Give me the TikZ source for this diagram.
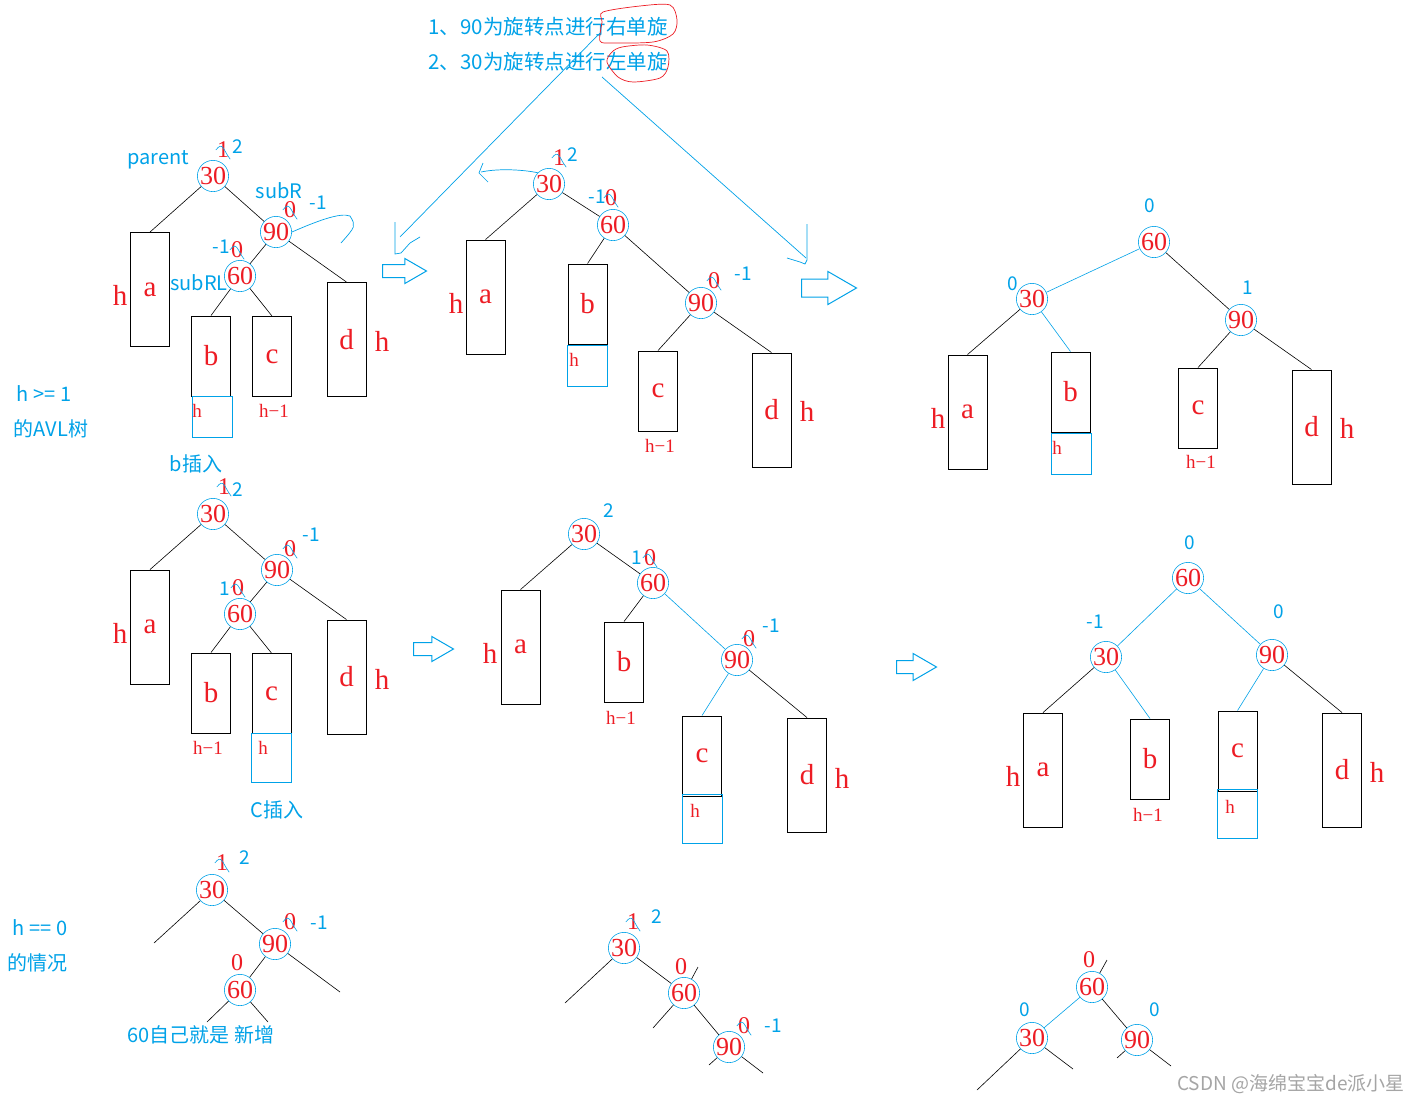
\documentclass[tikz,border=0pt]{standalone}
\usepackage{fontspec}
\setmainfont{Liberation Serif}
\newfontfamily\cjk{Noto Sans CJK SC}
\usetikzlibrary{shapes.arrows}
\definecolor{sky}{RGB}{0,162,232}
\definecolor{redpen}{RGB}{237,28,36}
\definecolor{wmgray}{RGB}{165,165,165}

\begin{document}
\begin{tikzpicture}
    [x=1pt,y=-1pt,
     key/.style={circle,draw=sky,line width=0.6pt,inner sep=0pt,minimum size=29pt,text=redpen,font=\fontsize{26}{26}\selectfont},
     sub/.style={draw,line width=0.9pt,inner sep=0pt,minimum width=39pt,text=redpen,font=\fontsize{29}{29}\selectfont},
     tall/.style={sub,minimum height=114pt},
     short/.style={sub,minimum height=80pt},
     addbox/.style={draw=sky,line width=0.9pt,inner sep=0pt,minimum width=40pt,minimum height=41pt},
     addboxl/.style={addbox,minimum height=49pt},
     hbig/.style={text=redpen,inner sep=0pt,font=\fontsize{29}{29}\selectfont},
     hsmall/.style={text=redpen,inner sep=0pt,font=\fontsize{19}{19}\selectfont},
     old/.style={text=redpen,inner sep=1pt,font=\fontsize{24}{24}\selectfont},
     new/.style={text=sky,inner sep=1pt,font=\cjk\fontsize{19}{19}\selectfont},
     note/.style={text=sky,inner sep=0pt,font=\cjk\fontsize{20}{20}\selectfont},
     link/.style={line width=0.6pt},
     blink/.style={link,sky},
     strk/.style={sky,line width=0.6pt},
     pen/.style={sky,line width=0.7pt},
     loopline/.style={redpen,line width=0.7pt},
     hollow/.style={single arrow,draw=sky,line width=1pt,anchor=tail,inner xsep=0pt,inner ysep=6pt,single arrow tip angle=60,single arrow head extend=6pt,minimum width=0pt,minimum height=44pt}]
  \useasboundingbox (0,0) rectangle (1424,1103);
  \fill[white] (0,0) rectangle (1424,1103);

  \node (step1) at (548,27) [note,font=\cjk\fontsize{20.5}{20.5}\selectfont] {1、90为旋转点进行右单旋};
  \node (step2) at (548,62) [note,font=\cjk\fontsize{20.5}{20.5}\selectfont] {2、30为旋转点进行左单旋};
  \draw[loopline] plot[smooth cycle] coordinates {(603,12) (640,6) (670,5) (677,20) (673,34) (653,42) (613,43) (600,41) (602,22)};
  \draw[loopline] plot[smooth cycle] coordinates {(607,62) (612,52) (622,47) (647,45) (667,51) (668,67) (660,78) (633,82) (618,77)};

  \coordinate (s1a) at (600,33);
  \coordinate (s1b) at (400,237);
  \coordinate (s2a) at (602,77);
  \coordinate (s2b) at (806,258);
  \draw[pen] (s1a) -- (s1b);
  \draw[pen] (395,222) -- (395,254) -- (401,253) -- (410,243) -- (420,237);
  \draw[pen] (s2a) -- (s2b);
  \draw[pen] (807,224) -- (807,260) -- (805,264) -- (800,262) -- (787,258);

  \node (hgt1) at (44,394) [note] {h >= 1};
  \node (hgt2) at (51,429) [note] {的AVL树};
  \node (hzero1) at (40,928) [note] {h == 0};
  \node (hzero2) at (37,963) [note] {的情况};

  % h >= 1, insert into b
  \node (t1) at (158,160) [note] {parent};
  \node (t2) at (279,191) [note] {subR};
  \node (t3) at (199,283) [note] {subRL};
  \node (t4) at (196,464) [note] {b插入};
  \node (p1k30) at (213,176) [key] {30};
  \node (p1k90) at (276,232) [key] {90};
  \node (p1k60) at (240,276) [key] {60};
  \node (p1a) at (150,289.5) [tall] {a};
  \node (p1b) at (211,356) [short] {b};
  \node (p1c) at (272,356.5) [short] {c};
  \node (p1d) at (346.5,339.5) [tall] {d};
  \node (p1g) at (212,416.5) [addbox] {};
  \node (p1h1) at (120,295) [hbig] {h};
  \node (p1h2) at (382,341) [hbig] {h};
  \node (p1h3) at (197,411) [hsmall] {h};
  \node (p1h4) at (274,411) [hsmall] {h−1};
  \node (p1o1) at (223,150) [old] {1};
  \node (p1n1) at (238,147) [new] {2};
  \node (p1o2) at (290,210) [old] {0};
  \node (p1n2) at (318,203) [new] {-1};
  \node (p1n3) at (221,247) [new] {-1};
  \node (p1o3) at (237,250) [old] {0};
  \draw[pen] (p1k90.east) .. controls (315,222) and (340,212) .. (350,216) .. controls (356,226) .. (341,243);

  \node (p2k30) at (549,184) [key] {30};
  \node (p2k60) at (613,225) [key] {60};
  \node (p2k90) at (701,303) [key] {90};
  \node (p2a) at (485.5,297) [tall] {a};
  \node (p2b) at (587.5,304) [short] {b};
  \node (p2c) at (658,391) [short] {c};
  \node (p2d) at (771.5,410) [tall] {d};
  \node (p2g) at (587.5,365.5) [addbox] {};
  \node (p2h1) at (456,303) [hbig] {h};
  \node (p2h2) at (807,411) [hbig] {h};
  \node (p2h3) at (574,360) [hsmall] {h};
  \node (p2h4) at (660,446) [hsmall] {h−1};
  \node (p2o1) at (559,158) [old] {1};
  \node (p2n1) at (573,155) [new] {2};
  \node (p2n2) at (597,197) [new] {-1};
  \node (p2o2) at (611,198) [old] {0};
  \node (p2o3) at (714,281) [old] {0};
  \node (p2n3) at (743,274) [new] {-1};
  \draw[pen] (p2k30.north west) .. controls (525,170) and (500,168) .. (481,172);
  \draw[pen] (483,163) -- (479,173) -- (488,182);

  \node (p3k60) at (1154,242) [key] {60};
  \node (p3k30) at (1032,299) [key] {30};
  \node (p3k90) at (1241,320) [key] {90};
  \node (p3a) at (967.5,412) [tall] {a};
  \node (p3b) at (1070.5,392) [short] {b};
  \node (p3c) at (1198,408) [short] {c};
  \node (p3d) at (1311.5,427) [tall] {d};
  \node (p3g) at (1071,453.5) [addbox] {};
  \node (p3h1) at (938,418) [hbig] {h};
  \node (p3h2) at (1347,428) [hbig] {h};
  \node (p3h3) at (1057,448) [hsmall] {h};
  \node (p3h4) at (1201,462) [hsmall] {h−1};
  \node (p3n1) at (1150,206) [new] {0};
  \node (p3n2) at (1013,284) [new] {0};
  \node (p3n3) at (1248,288) [new] {1};

  % h >= 1, insert into c
  \node (t5) at (277,810) [note] {C插入};
  \node (p4k30) at (213,514) [key] {30};
  \node (p4k90) at (277,570) [key] {90};
  \node (p4k60) at (240,614) [key] {60};
  \node (p4a) at (150,627) [tall] {a};
  \node (p4b) at (211,693) [short] {b};
  \node (p4c) at (271.5,693.5) [short] {c};
  \node (p4d) at (346.5,677) [tall] {d};
  \node (p4g) at (271.5,757.5) [addboxl] {};
  \node (p4h1) at (120,633) [hbig] {h};
  \node (p4h2) at (382,679) [hbig] {h};
  \node (p4h3) at (263,748) [hsmall] {h};
  \node (p4h4) at (208,748) [hsmall] {h−1};
  \node (p4o1) at (224,487) [old] {1};
  \node (p4n1) at (238,490) [new] {2};
  \node (p4o2) at (290,549) [old] {0};
  \node (p4n2) at (311,535) [new] {-1};
  \node (p4n3) at (225,589) [new] {1};
  \node (p4o3) at (238,588) [old] {0};

  \node (p5k30) at (584,534) [key] {30};
  \node (p5k60) at (653,583) [key] {60};
  \node (p5k90) at (737,660) [key] {90};
  \node (p5a) at (520.5,647) [tall] {a};
  \node (p5b) at (624,662) [short] {b};
  \node (p5c) at (702,756) [short] {c};
  \node (p5d) at (807,775) [tall] {d};
  \node (p5g) at (702,819) [addboxl] {};
  \node (p5h1) at (490,653) [hbig] {h};
  \node (p5h2) at (842,778) [hbig] {h};
  \node (p5h3) at (695,811) [hsmall] {h};
  \node (p5h4) at (621,718) [hsmall] {h−1};
  \node (p5n1) at (609,511) [new] {2};
  \node (p5n2) at (637,558) [new] {1};
  \node (p5o2) at (650,558) [old] {0};
  \node (p5o3) at (749,639) [old] {0};
  \node (p5n3) at (771,626) [new] {-1};

  \node (p6k60) at (1188,578) [key] {60};
  \node (p6k30) at (1106,657) [key] {30};
  \node (p6k90) at (1272,655) [key] {90};
  \node (p6a) at (1043,770) [tall] {a};
  \node (p6b) at (1150,759) [short] {b};
  \node (p6c) at (1237.5,751) [short] {c};
  \node (p6d) at (1342,770) [tall] {d};
  \node (p6g) at (1237,814) [addboxl] {};
  \node (p6h1) at (1013,776) [hbig] {h};
  \node (p6h2) at (1377,772) [hbig] {h};
  \node (p6h3) at (1230,807) [hsmall] {h};
  \node (p6h4) at (1148,815) [hsmall] {h−1};
  \node (p6n1) at (1190,543) [new] {0};
  \node (p6n2) at (1095,622) [new] {-1};
  \node (p6n3) at (1279,612) [new] {0};

  % h == 0
  \node (t6) at (201,1035) [note] {60自己就是 新增};
  \node (p7k30) at (212,890) [key] {30};
  \node (p7k90) at (275,944) [key] {90};
  \node (p7k60) at (240,990) [key] {60};
  \node (p7o1) at (222,863) [old] {1};
  \node (p7n1) at (245,858) [new] {2};
  \node (p7o2) at (290,922) [old] {0};
  \node (p7n2) at (319,923) [new] {-1};
  \node (p7o3) at (237,963) [old] {0};
  \coordinate (p7e1) at (154,943);
  \coordinate (p7e2) at (340,992);
  \coordinate (p7e3) at (207,1022);
  \coordinate (p7e4) at (268,1022);

  \node (p8k30) at (624,948) [key] {30};
  \node (p8k60) at (684,993) [key] {60};
  \node (p8k90) at (729,1047) [key] {90};
  \node (p8o1) at (633,922) [old] {1};
  \node (p8n1) at (657,917) [new] {2};
  \node (p8o2) at (681,967) [old] {0};
  \node (p8o3) at (744,1026) [old] {0};
  \node (p8n3) at (773,1026) [new] {-1};
  \coordinate (p8e1) at (565,1003);
  \coordinate (p8e2) at (698,967);
  \coordinate (p8e3) at (653,1028);
  \coordinate (p8e4) at (709,1065);
  \coordinate (p8e5) at (763,1073);

  \node (p9k60) at (1092,987) [key] {60};
  \node (p9k30) at (1032,1038) [key] {30};
  \node (p9k90) at (1137,1040) [key] {90};
  \node (p9o1) at (1089,960) [old] {0};
  \node (p9n1) at (1025,1010) [new] {0};
  \node (p9n2) at (1155,1010) [new] {0};
  \coordinate (p9e1) at (1107,960);
  \coordinate (p9e2) at (977,1090);
  \coordinate (p9e3) at (1073,1069);
  \coordinate (p9e4) at (1117,1058);
  \coordinate (p9e5) at (1171,1066);

  \foreach \u/\v in {p1k30/p1a.north,p1k30/p1k90,p1k90/p1k60,p1k90/p1d.north,p1k60/p1b.north,p1k60/p1c.north,
                     p2k30/p2a.north,p2k30/p2k60,p2k60/p2b.north,p2k60/p2k90,p2k90/p2c.north,p2k90/p2d.north,
                     p3k60/p3k90,p3k30/p3a.north,p3k90/p3c.north,p3k90/p3d.north,
                     p4k30/p4a.north,p4k30/p4k90,p4k90/p4k60,p4k90/p4d.north,p4k60/p4b.north,p4k60/p4c.north,
                     p5k30/p5a.north,p5k30/p5k60,p5k60/p5b.north,p5k90/p5d.north,
                     p6k30/p6a.north,p6k90/p6d.north,
                     p7k30/p7e1,p7k30/p7k90,p7k90/p7e2,p7k90/p7k60,p7k60/p7e3,p7k60/p7e4,
                     p8k30/p8e1,p8k30/p8k60,p8k60/p8e2,p8k60/p8e3,p8k60/p8k90,p8k90/p8e4,p8k90/p8e5,
                     p9k60/p9e1,p9k60/p9k90,p9k30/p9e2,p9k30/p9e3,p9k90/p9e4,p9k90/p9e5}
    \draw[link] (\u) -- (\v);
  \foreach \u/\v in {p3k30/p3k60,p3k30/p3b.north,p5k60/p5k90,p5k90/p5c.north,
                     p6k60/p6k30,p6k60/p6k90,p6k30/p6b.north,p6k90/p6c.north,p9k60/p9k30}
    \draw[blink] (\u) -- (\v);

  \foreach \o in {p1o1,p1o2,p1o3,p2o1,p2o2,p2o3,p4o1,p4o2,p4o3,p5o2,p5o3,p7o1,p7o2,p8o1,p8o3}
    \draw[strk] (\o.west) .. controls (\o.north) and (\o.center) .. (\o.south east);

  \node (ar1) at (382,271) [hollow] {};
  \node (ar2) at (801,288) [hollow,inner ysep=8.5pt,single arrow head extend=7.5pt,minimum height=55pt] {};
  \node (ar3) at (413,649) [hollow,minimum height=40pt] {};
  \node (ar4) at (896,667) [hollow,single arrow head extend=7pt,minimum height=40pt] {};

  \node (wm) at (1291,1084) [text=wmgray,inner sep=0pt,font=\cjk\fontsize{19}{19}\selectfont] {CSDN @海绵宝宝de派小星};
\end{tikzpicture}
\end{document}
